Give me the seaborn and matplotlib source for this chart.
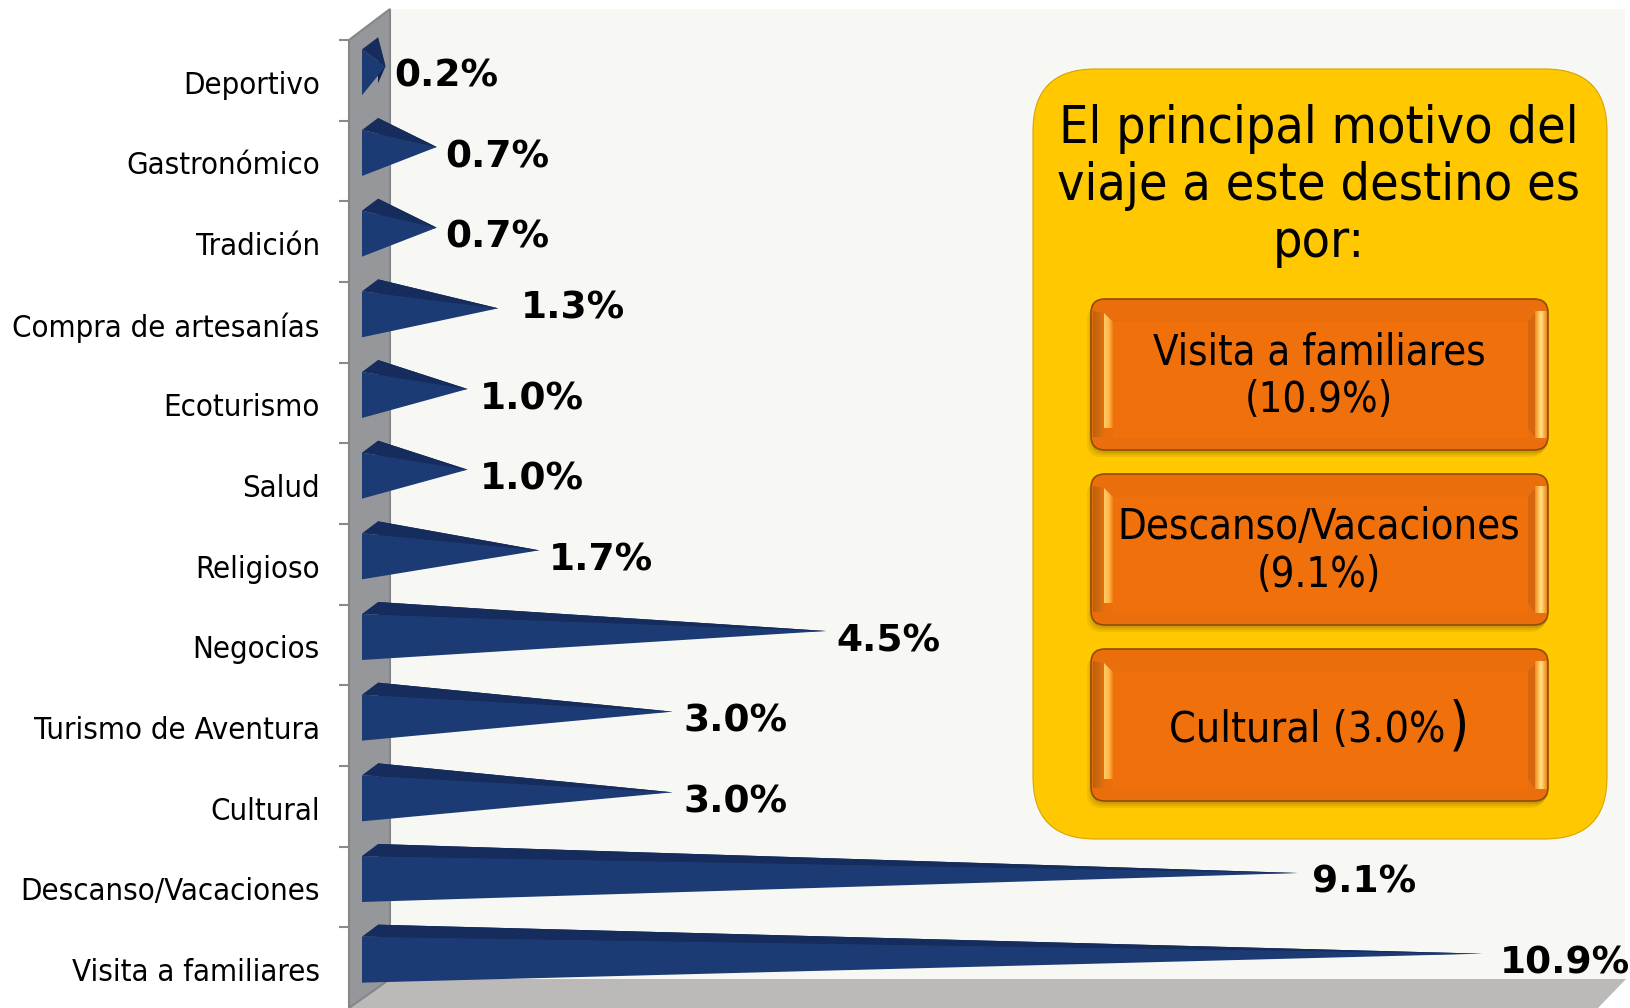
import pandas as pd
import seaborn as sns
import matplotlib.pyplot as plt
import numpy as np
from matplotlib.colors import LinearSegmentedColormap
from matplotlib.patches import FancyBboxPatch, Polygon
from matplotlib.transforms import ScaledTranslation

categorias = ['Deportivo', 'Gastronómico', 'Tradición', 'Compra de artesanías', 'Ecoturismo', 'Salud',
              'Religioso', 'Negocios', 'Turismo de Aventura', 'Cultural', 'Descanso/Vacaciones', 'Visita a familiares']
valores = [0.2, 0.7, 0.7, 1.3, 1.0, 1.0, 1.7, 4.5, 3.0, 3.0, 9.1, 10.9]
titulo = 'El principal motivo del\nviaje a este destino es\npor:'
principales = ['Visita a familiares\n(10.9%)', 'Descanso/Vacaciones\n(9.1%)']
ultimo = 'Cultural (3.0%'

# ajustes de las etiquetas, en pixeles
label_dx = [9, 9, 9, 23, 12, 12, 10, 10, 11, 11, 14, 18]
label_dy = [4, 4, 4, 14, 4, 4, 4, 4, 4, 4, 4, 4]

W, H = 1631, 1008
PX_X = 102.5   # pixeles por 1%
PX_Y = 80.67   # pixeles por categoria
X0 = 365
AZUL = '#1c3a73'
AZUL_OSC = '#152c5c'
NARANJA = '#f0700c'

sns.set_theme(style='white')
plt.rcParams['font.family'] = ['DejaVu Sans']

df = pd.DataFrame({'motivo': categorias, 'pct': valores})

fig = plt.figure(figsize=(W / 100, H / 100), dpi=100, facecolor='white')

# fondo: paredes 3d y recuadro amarillo, en pixeles
bg = fig.add_axes([0, 0, 1, 1], zorder=0)
bg.axis('off')

bg.add_patch(Polygon([(390, 9), (1625, 9), (1625, 979), (390, 979)], fc='#f7f8f3', ec='none'))
bg.add_patch(Polygon([(390, 979), (1626, 979), (1598, 1008), (349, 1008)], fc='#bbbab8', ec='none'))
bg.add_patch(Polygon([(349, 40), (390, 9), (390, 979), (349, 1008)], fc='#96979b', ec='#85868a', lw=1.5))


def degradado(xa, xb, colores, clip):
    cm = LinearSegmentedColormap.from_list('g', colores)
    im = bg.imshow(np.linspace(0, 1, 64)[None, :], cmap=cm, aspect='auto', zorder=2,
                   extent=(xa, xb, clip[2][1], clip[0][1]))
    p = Polygon(clip, transform=bg.transData, fc='none', ec='none')
    bg.add_patch(p)
    im.set_clip_path(p)


def boton(l, t, r, b):
    estilo = 'round,pad=0,rounding_size=14'
    for k, a in zip([7, 5, 3], [0.15, 0.2, 0.3]):
        bg.add_patch(FancyBboxPatch((l - k + 3, t + k), r - l, b - t, boxstyle=estilo, fc='#a07800', ec='none',
                                    alpha=a, zorder=1))
    bg.add_patch(FancyBboxPatch((l, t), r - l, b - t, boxstyle=estilo, fc='#ea6e0b', ec='#8f4c08', lw=1.2, zorder=1.5))
    # biseles
    degradado(l + 1, l + 13, ['#b5620f', '#e2700f'], [(l + 2, t + 12), (l + 13, t + 14), (l + 13, b - 13), (l + 2, b - 12)])
    bg.add_patch(Polygon([(l + 22, t + 23), (r - 20, t + 23), (r - 20, b - 12), (l + 22, b - 12)],
                         fc=NARANJA, ec='none', zorder=1.8))
    degradado(l + 13, l + 23, ['#ffcc66', '#ffb648', NARANJA], [(l + 13, t + 14), (l + 22, t + 23), (l + 22, b - 22), (l + 13, b - 13)])
    bg.add_patch(Polygon([(r - 20, t + 23), (r - 13, t + 14), (r - 13, b - 13), (r - 20, b - 22)], fc='#d5670e', ec='none', zorder=2))
    degradado(r - 13, r - 1, ['#f58a1a', '#ffe488', '#f08616'], [(r - 13, t + 12), (r - 1, t + 12), (r - 1, b - 12), (r - 13, b - 12)])


bg.add_patch(FancyBboxPatch((1033, 69), 574, 770, boxstyle='round,pad=0,rounding_size=62',
                            fc='#ffc800', ec='#d9a300', lw=0.8))
boton(1091, 299, 1548, 450)
boton(1091, 474, 1548, 625)
boton(1091, 649, 1548, 801)

bg.set_xlim(0, W)
bg.set_ylim(H, 0)

bg.text(1319, 186, titulo, ha='center', va='center', fontsize=37.3, color='black', linespacing=1.18,
        stretch='condensed', zorder=5)
for texto, yc in zip(principales, [376, 551]):
    bg.text(1319, yc, texto, ha='center', va='center', fontsize=30, color='black', linespacing=1.16,
            stretch='condensed', zorder=5)
bg.text(1446, 730, ultimo, ha='right', va='center', fontsize=30.8, color='black', stretch='condensed', zorder=5)
bg.text(1449, 727, ')', ha='left', va='center', fontsize=42, color='black', stretch='condensed', zorder=5)

# grafico: las barras vienen de seaborn y de ahi salen los conos
ax = fig.add_axes([349 / W, 0, (1625 - 349) / W, (H - 40) / H], zorder=1)
ax.patch.set_alpha(0)
sns.barplot(data=df, x='pct', y='motivo', order=categorias, color=AZUL, width=0.57, orient='h', ax=ax)
ax.set_xlim((349 - X0) / PX_X, (1625 - X0) / PX_X)
ax.set_ylim(11.5, -0.5)
ax.set_xlabel('')
ax.set_ylabel('')
ax.set_xticks([])
ax.set_yticks([i - 0.5 for i in range(12)], minor=True)
ax.set_yticks(range(12), categorias)
sns.despine(ax=ax, left=True, bottom=True, right=True, top=True)
ax.tick_params(axis='y', which='major', length=0, pad=21, labelsize=22.3)
ax.tick_params(axis='y', which='minor', left=True, length=7, width=1.5, color='#8a8a8a')
baja = ScaledTranslation(0, -2 / 100, fig.dpi_scale_trans)
for t in ax.get_yticklabels():
    t.set_stretch('condensed')
    t.set_color('black')
    t.set_transform(t.get_transform() + baja)

dx = 16 / PX_X
for i, barra in enumerate(ax.patches[:len(valores)]):
    barra.set_visible(False)
    v = barra.get_width()
    yc = barra.get_y() + barra.get_height() / 2
    m = barra.get_height() / 2
    c = yc - 8 / PX_Y
    izq = -3 / PX_X
    punta = (v, c - 6 / PX_Y)
    sup = c - m
    inf = c + m
    atras = -12 / PX_Y
    ax.add_patch(Polygon([(izq + dx, sup + atras), (izq + dx, inf + atras), punta],
                         fc='#10234a', ec='none', zorder=3, clip_on=False))
    ax.add_patch(Polygon([(izq, sup), (izq + dx, sup + atras), punta],
                         fc=AZUL_OSC, ec='none', zorder=4, clip_on=False))
    ax.add_patch(Polygon([(izq, sup), (izq, inf), punta], fc=AZUL, ec='none', zorder=5, clip_on=False))
    ax.annotate(f'{v:.1f}%', xy=(v, yc), xytext=(label_dx[i], label_dy[i]), textcoords='offset pixels',
                ha='left', va='center', fontsize=27, fontweight='bold', color='black',
                annotation_clip=False, zorder=6)

fig.savefig('out.png', dpi=100)
